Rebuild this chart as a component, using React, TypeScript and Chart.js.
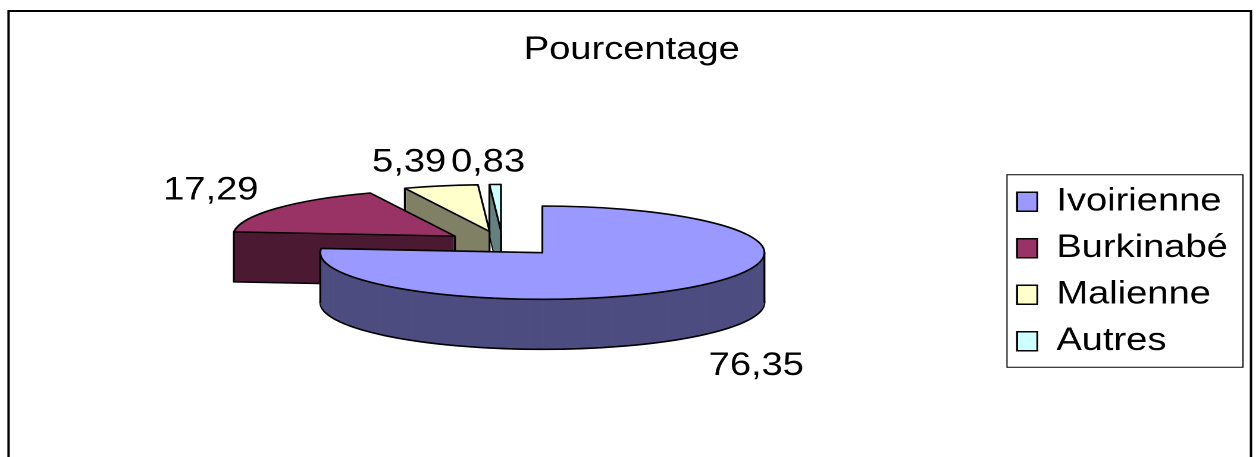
import React, { useEffect, useRef } from "react";
import { Chart, registerables } from "chart.js";

Chart.register(...registerables);

const chartTitle = "Pourcentage";
const categories = ["Ivoirienne", "Burkinabé", "Malienne", "Autres"];
const values = [76.35, 17.29, 5.39, 0.83];
const labelsText = ["76,35", "17,29", "5,39", "0,83"];
const topColors = ["#9999FF", "#993366", "#FFFFCC", "#CCFFFF"];
const wallColors = ["#4D4D80", "#4D1A33", "#808066", "#668080"];
const labelOffsets = [
  [54, 79],
  [-55, -18],
  [-26.5, -23],
  [-6, -22],
];

const STRETCH = 1.19; // the reference is stretched horizontally
const LOGICAL_WIDTH = Math.round(1259 / STRETCH);
const FONT = "'Liberation Sans', Arial, sans-serif";
const TILT = 0.25; // ellipse height / width
const DEPTH = 50;
const EXPLODE = 0.266; // of the radius
const RADIUS_SCALE = 1.0105;
const SHIFT_X = -7.8;
const SHIFT_Y = -28;

const frame3D = {
  id: "frame3D",
  beforeDraw(chart: any) {
    const { ctx, width, height, legend } = chart;
    ctx.save();
    ctx.fillStyle = "#fff";
    ctx.fillRect(0, 0, width, height);
    ctx.strokeStyle = "#000";
    ctx.lineWidth = 2;
    ctx.beginPath();
    ctx.moveTo(7.2, height + 4);
    ctx.lineTo(7.2, 11);
    ctx.lineTo(1251 / STRETCH, 11);
    ctx.lineTo(1251 / STRETCH, height + 4);
    ctx.stroke();
    const boxes = legend.legendHitBoxes;
    const l = boxes[0].left - 8.5;
    const r = 1243 / STRETCH;
    const t = boxes[0].top - 11;
    const last = boxes[boxes.length - 1];
    const b = last.top + last.height + 10;
    ctx.lineWidth = 1;
    ctx.strokeRect(l, t, r - l, b - t);
    ctx.restore();
  },
  beforeDatasetsDraw(chart: any) {
    const { ctx } = chart;
    const arcs = chart.getDatasetMeta(0).data;
    const geo = arcs.map((arc: any) => {
      const { x, y, startAngle, endAngle, outerRadius } = arc.getProps(
        ["x", "y", "startAngle", "endAngle", "outerRadius"],
        true
      );
      const mid = (startAngle + endAngle) / 2;
      const R = outerRadius * RADIUS_SCALE;
      const Ry = R * TILT;
      return {
        a0: startAngle,
        a1: endAngle,
        mid,
        R,
        Ry,
        cx: x + SHIFT_X + R * EXPLODE * Math.cos(mid),
        cy: y + SHIFT_Y + Ry * EXPLODE * Math.sin(mid),
      };
    });
    const path = (g: any, dy: number) => {
      ctx.beginPath();
      ctx.moveTo(g.cx, g.cy + dy);
      ctx.ellipse(g.cx, g.cy + dy, g.R, g.Ry, 0, g.a0, g.a1);
      ctx.closePath();
    };
    ctx.save();
    ctx.lineJoin = "round";
    ctx.strokeStyle = "#000";
    ctx.lineWidth = 1.6;
    for (let i = geo.length - 1; i >= 0; i--) {
      const g = geo[i];
      path(g, DEPTH);
      ctx.fillStyle = wallColors[i];
      ctx.fill();
      ctx.stroke();
      for (let d = DEPTH - 1; d > 0; d--) {
        path(g, d);
        ctx.fill();
      }
      const vertical = (x: number, y: number) => {
        ctx.beginPath();
        ctx.moveTo(x, y);
        ctx.lineTo(x, y + DEPTH);
        ctx.stroke();
      };
      const startFaces = Math.cos(g.a0) < -1e-6;
      const endFaces = Math.cos(g.a1) > 1e-6;
      if (startFaces) vertical(g.cx + g.R * Math.cos(g.a0), g.cy + g.Ry * Math.sin(g.a0));
      if (endFaces) vertical(g.cx + g.R * Math.cos(g.a1), g.cy + g.Ry * Math.sin(g.a1));
      if (startFaces || endFaces) vertical(g.cx, g.cy);
      for (const ext of [0, Math.PI]) {
        for (const k of [-2, 0, 2]) {
          const a = ext + k * Math.PI;
          if (a > g.a0 && a < g.a1) vertical(g.cx + g.R * Math.cos(a), g.cy + g.Ry * Math.sin(a));
        }
      }
      path(g, 0);
      ctx.fillStyle = topColors[i];
      ctx.fill();
      ctx.stroke();
    }
    ctx.fillStyle = "#000";
    ctx.font = `32px ${FONT}`;
    ctx.textAlign = "center";
    ctx.textBaseline = "middle";
    geo.forEach((g: any, i: number) => {
      const px = g.cx + g.R * Math.cos(g.mid) + labelOffsets[i][0];
      const py = g.cy + g.Ry * Math.sin(g.mid) + labelOffsets[i][1];
      ctx.fillText(labelsText[i], px, py);
    });
    ctx.restore();
    return false;
  },
};

export default function App() {
  const ref = useRef<HTMLCanvasElement | null>(null);
  useEffect(() => {
    const canvas = ref.current!;
    const chart = new Chart(canvas, {
      type: "pie",
      data: {
        labels: categories,
        datasets: [
          {
            data: values,
            backgroundColor: topColors,
            borderColor: "#000",
            borderWidth: 1.6,
          },
        ],
      },
      plugins: [frame3D],
      options: {
        animation: false,
        responsive: false,
        devicePixelRatio: 2,
        layout: { padding: { left: 20, right: 16.2, top: 86, bottom: 0 } },
        plugins: {
          title: {
            display: true,
            text: chartTitle,
            color: "#000",
            font: { family: FONT, size: 32, weight: "normal", lineHeight: 1.2 },
            padding: { top: -55, bottom: 11 },
          },
          legend: {
            display: true,
            position: "right",
            labels: {
              color: "#000",
              font: { family: FONT, size: 32, lineHeight: 1.2 },
              boxWidth: 17,
              boxHeight: 19,
              padding: 14.5,
            },
          },
          tooltip: { enabled: false },
        },
      },
    } as any);
    canvas.style.width = "1259px";
    canvas.style.height = "457px";
    return () => chart.destroy();
  }, []);
  return (
    <canvas
      ref={ref}
      width={LOGICAL_WIDTH}
      height={457}
      style={{ position: "fixed", left: 0, top: 0, display: "block" }}
    />
  );
}
